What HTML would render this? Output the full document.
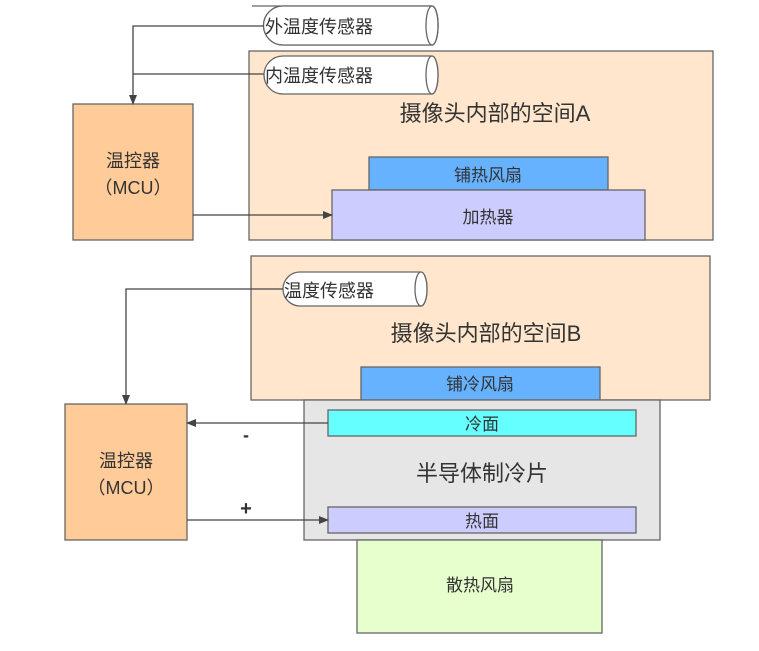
<!DOCTYPE html>
<html><head><meta charset="utf-8"><style>
body{margin:0;background:#fff;}
svg text{font-family:"Liberation Sans","Noto Sans CJK SC",sans-serif;fill:#333;}
</style></head><body>
<svg width="759" height="646" xmlns="http://www.w3.org/2000/svg">
<defs><marker id="a" markerWidth="10" markerHeight="8" refX="9" refY="4" orient="auto" markerUnits="userSpaceOnUse"><path d="M0,0 L10,4 L0,8 Z" fill="#444"/></marker></defs>
<g stroke="#666" stroke-width="1.3">
<rect x="249" y="51" width="464" height="189" fill="#ffe6cc"/>
<rect x="73" y="104" width="120" height="136" fill="#ffcc99"/>
<rect x="369" y="157" width="239" height="33" fill="#66b2ff"/>
<rect x="332" y="190" width="313" height="50" fill="#ccccff"/>
<path d="M252,6 H432 A6,19.5 0 0 1 432,45 H283 A19.5,19.5 0 0 1 283,6 Z" fill="#fff" transform="translate(0,0)"/>
<ellipse cx="432" cy="25.5" rx="6" ry="19.5" fill="#fff"/>
<path d="M283,56 H432 A6,19 0 0 1 432,94 H283 A19,19 0 0 1 283,56 Z" fill="#fff"/>
<ellipse cx="432" cy="75" rx="6" ry="19" fill="#fff"/>
<rect x="251" y="256" width="459" height="144" fill="#ffe6cc"/>
<rect x="65" y="404" width="122" height="136" fill="#ffcc99"/>
<rect x="361" y="367" width="239" height="33" fill="#66b2ff"/>
<rect x="304" y="400" width="356" height="140" fill="#e6e6e6"/>
<rect x="328" y="410" width="308" height="26" fill="#66ffff"/>
<rect x="328" y="507" width="308" height="26" fill="#ccccff"/>
<rect x="357" y="540" width="245" height="93" fill="#e6ffcc"/>
<path d="M300,272 H421 A6,17 0 0 1 421,306 H300 A17,17 0 0 1 300,272 Z" fill="#fff"/>
<ellipse cx="421" cy="289" rx="6" ry="17" fill="#fff"/>
</g>
<path d="M283,6 H432 A6,19.5 0 0 1 432,45 H283 A19.5,19.5 0 0 1 283,6 Z" fill="#fff" stroke="#666" stroke-width="1.3"/>
<ellipse cx="432" cy="25.5" rx="6" ry="19.5" fill="#fff" stroke="#666" stroke-width="1.3"/>
<g stroke="#444" stroke-width="1.3" fill="none">
<path d="M264,26 H133 V104" marker-end="url(#a)"/>
<path d="M264,74 H133"/>
<path d="M193,215 H332" marker-end="url(#a)"/>
<path d="M283,289 H126 V404" marker-end="url(#a)"/>
<path d="M328,423 H187" marker-end="url(#a)"/>
<path d="M187,520 H328" marker-end="url(#a)"/>
</g>
<text x="265" y="33" font-size="18">外温度传感器</text>
<text x="265" y="82" font-size="18">内温度传感器</text>
<text x="495" y="121" font-size="22" text-anchor="middle">摄像头内部的空间A</text>
<text x="488" y="181" font-size="17" text-anchor="middle">铺热风扇</text>
<text x="488" y="223" font-size="17" text-anchor="middle">加热器</text>
<text x="133" y="167" font-size="18" text-anchor="middle">温控器</text>
<text x="133" y="194" font-size="18" text-anchor="middle">（MCU）</text>
<text x="284" y="297" font-size="18">温度传感器</text>
<text x="486" y="341" font-size="22" text-anchor="middle">摄像头内部的空间B</text>
<text x="480" y="390" font-size="17" text-anchor="middle">铺冷风扇</text>
<text x="482" y="430" font-size="17" text-anchor="middle">冷面</text>
<text x="482" y="481" font-size="22" text-anchor="middle">半导体制冷片</text>
<text x="482" y="527" font-size="17" text-anchor="middle">热面</text>
<text x="480" y="591" font-size="17" text-anchor="middle">散热风扇</text>
<text x="126" y="467" font-size="18" text-anchor="middle">温控器</text>
<text x="126" y="494" font-size="18" text-anchor="middle">（MCU）</text>
<text x="246" y="441" font-size="18" text-anchor="middle" font-weight="bold">-</text>
<text x="246" y="515" font-size="20" text-anchor="middle" font-weight="bold">+</text>
</svg>
</body></html>
